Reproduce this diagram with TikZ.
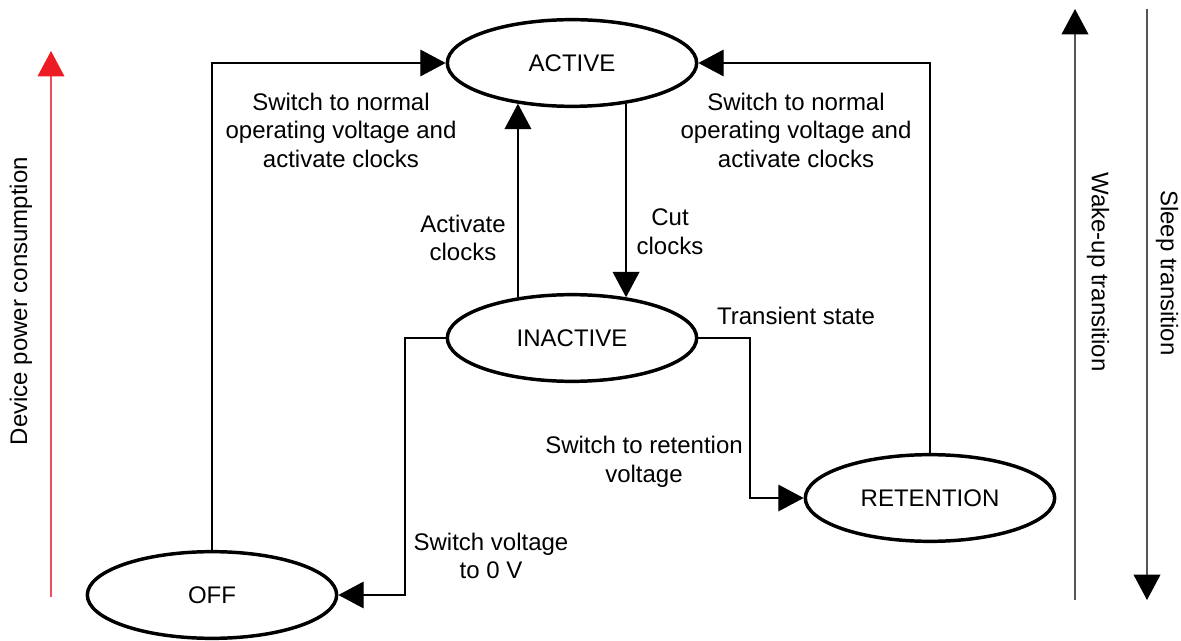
\documentclass[tikz,border=0pt]{standalone}
\usepackage{fontspec}
\setmainfont{Liberation Sans}
\usetikzlibrary{arrows.meta,shapes.geometric}
\definecolor{headred}{HTML}{ED1C24}
\definecolor{linered}{HTML}{E8505B}
\definecolor{axisgray}{HTML}{555555}
\tikzset{
  state/.style={draw=black, line width=2.6pt, ellipse, minimum width=187pt, minimum height=65pt, inner sep=0pt, font=\fontsize{18pt}{21.4pt}\selectfont},
  conn/.style={draw=black, line width=1pt, -{Triangle[length=19pt,width=20pt]}},
  lbl/.style={align=center, inner sep=0pt, font=\fontsize{18pt}{21.4pt}\selectfont},
  axis/.style={draw=axisgray, line width=1.2pt, -{Triangle[length=19pt,width=20pt,color=black]}},
  redaxis/.style={draw=linered, line width=0.9pt, -{Triangle[length=19pt,width=20pt,color=headred]}}
}
\begin{document}
\begin{tikzpicture}[x=0.75pt, y=-0.75pt]
\useasboundingbox (0,0) rectangle (1181,641);
% states
\node[state] (act) at (572,63) {ACTIVE};
\node[state] (inact) at (572,338) {INACTIVE};
\node[state] (ret) at (930,498) {RETENTION};
\node[state] (off) at (212,595) {OFF};
% helper coordinates
\coordinate (offx) at (405,0);
\coordinate (retx) at (750,0);
% connectors
\draw[conn] (off.north) |- (act.west);
\draw[conn] (ret.north) |- (act.east);
\draw[conn] (inact.143) -- (act.217);
\draw[conn] (act.323) -- (inact.37);
\draw[conn] (inact.west) -- (inact.west -| offx) |- (off.east);
\draw[conn] (inact.east) -- (inact.east -| retx) |- (ret.west);
% labels
\node[lbl] (l1) at (341,130) {Switch to normal\\operating voltage and\\activate clocks};
\node[lbl] (l2) at (796,130) {Switch to normal\\operating voltage and\\activate clocks};
\node[lbl] (l3) at (463,238) {Activate\\clocks};
\node[lbl] (l4) at (670,232) {Cut\\clocks};
\node[lbl] (l5) at (796,316) {Transient state};
\node[lbl] (l6) at (644,462) {Switch to retention\\voltage};
\node[lbl] (l7) at (491,556) {Switch voltage\\to 0 V};
% side axes
\coordinate (ra) at (51,597);
\coordinate (rb) at (51,51);
\draw[redaxis] (ra) -- (rb);
\node[lbl, rotate=90] (dpc) at (21,301) {Device power consumption};
\coordinate (wa) at (1075,600);
\coordinate (wb) at (1075,9);
\draw[axis] (wa) -- (wb);
\node[lbl, rotate=-90] (wut) at (1098,272) {Wake-up transition};
\coordinate (sa) at (1147,9);
\coordinate (sb) at (1147,600);
\draw[axis] (sa) -- (sb);
\node[lbl, rotate=-90] (slt) at (1167,273) {Sleep transition};
\end{tikzpicture}
\end{document}
